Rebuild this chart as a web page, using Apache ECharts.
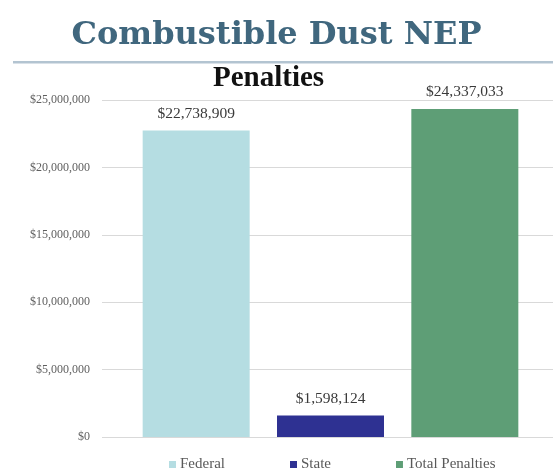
<!DOCTYPE html>
<html>
<head>
<meta charset="utf-8">
<script src="https://cdn.jsdelivr.net/npm/echarts@6/dist/echarts.min.js"></script>
<style>html,body{margin:0;padding:0;background:#fff}#c{width:553px;height:470px}</style>
</head>
<body>
<div id="c"></div>
<script>
const categories = ['Federal', 'State', 'Total Penalties'];
const penalties = [22738909, 1598124, 24337033];
const valueLabels = ['$22,738,909', '$1,598,124', '$24,337,033'];
const yTicks = [0, 5000000, 10000000, 15000000, 20000000, 25000000];
const colors = ['#b5dde2', '#2e3192', '#5e9e76'];

const chart = echarts.init(document.getElementById('c'), null, {renderer: 'canvas'});
const serif = '"Liberation Serif", "DejaVu Serif", serif';
const wide = '"DejaVu Serif", serif';
const fmt = v => '$' + v.toLocaleString('en-US');

const series = categories.map((name, i) => ({
  name: name,
  type: 'bar',
  stack: 'all',
  xAxisIndex: 1,
  yAxisIndex: 1,
  barWidth: 107,
  itemStyle: {color: colors[i]},
  label: {
    show: true,
    position: 'top',
    distance: 9,
    formatter: () => valueLabels[i],
    fontFamily: serif,
    fontSize: 15.5,
    color: '#3a3a3a'
  },
  data: penalties.map((v, j) => j === i ? v : '-')
}));

chart.setOption({
  animation: false,
  title: [
    {text: 'Combustible Dust NEP', left: 'center', top: 15,
     textStyle: {fontFamily: wide, fontWeight: 'bold', fontSize: 32, color: '#40677e'}},
    {text: 'Penalties', left: 208, top: 59,
     textStyle: {fontFamily: serif, fontWeight: 'bold', fontSize: 29, color: '#111'}}
  ],
  graphic: [
    {type: 'rect', shape: {x: 13, y: 61, width: 540, height: 2.5}, style: {fill: '#b3c4d1'}}
  ],
  legend: {
    data: categories,
    top: 452,
    left: 164,
    itemWidth: 7,
    itemHeight: 7,
    itemGap: 65,
    icon: 'rect',
    textStyle: {fontFamily: serif, fontSize: 15, color: '#595959', padding: [0, 0, 0, -1]}
  },
  grid: [
    {left: 102, right: 0, top: 100, bottom: 33},
    {left: 129, right: 21, top: 100, bottom: 33}
  ],
  xAxis: [
    {gridIndex: 0, type: 'value', show: false, min: 0, max: 1},
    {gridIndex: 1, type: 'category', data: categories, show: false}
  ],
  yAxis: [
    {gridIndex: 0, type: 'value', min: yTicks[0], max: yTicks[yTicks.length - 1], interval: yTicks[1] - yTicks[0],
     axisLine: {show: false}, axisTick: {show: false},
     splitLine: {lineStyle: {color: '#d9d9d9', width: 1}},
     axisLabel: {formatter: fmt, fontFamily: serif, fontSize: 12, color: '#5f5f5f', margin: 12}},
    {gridIndex: 1, type: 'value', min: yTicks[0], max: yTicks[yTicks.length - 1], show: false}
  ],
  series: series
});
</script>
</body>
</html>
